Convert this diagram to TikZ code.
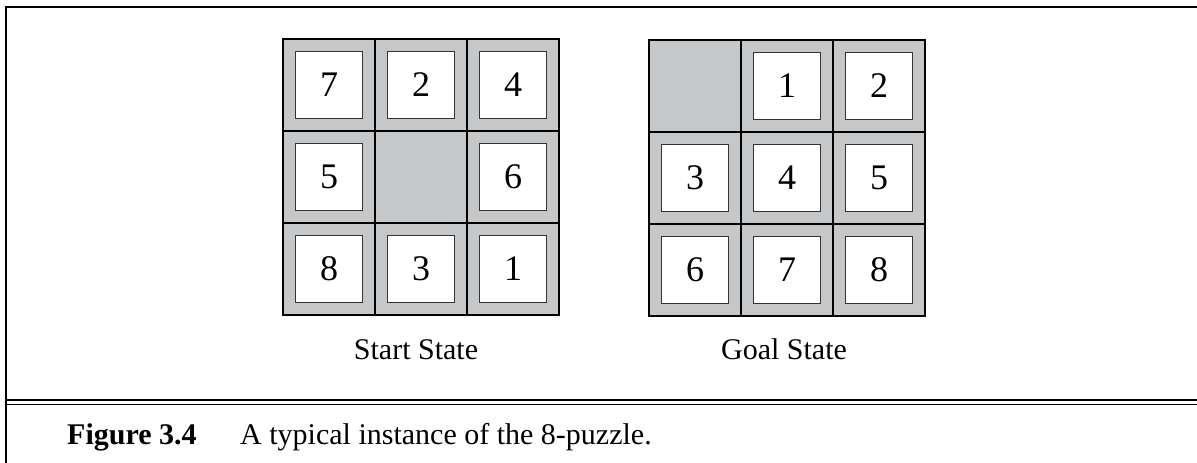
\documentclass[tikz,border=0pt]{standalone}
\usepackage{fontspec}
\setmainfont{Liberation Serif}
\usepackage{tikz}
\usetikzlibrary{calc}
\definecolor{cellgray}{HTML}{C6C7C9}
\definecolor{tileline}{HTML}{333333}
\tikzset{
  cell/.style={draw=black, line width=1.7pt, fill=cellgray, minimum size=92pt, inner sep=0pt, outer sep=0pt},
  tile/.style={draw=tileline, line width=0.9pt, fill=white, minimum size=67pt, inner sep=0pt,
    font=\fontsize{36}{40}\selectfont},
  boardEdge/.style={draw=black, line width=2.2pt},
  frameLine/.style={draw=black, line width=1.4pt},
  stateLbl/.style={font=\fontsize{30}{34}\selectfont, anchor=base},
  capLbl/.style={font=\fontsize{30}{34}\selectfont, anchor=base west, inner sep=0pt},
}
% #1 board name, #2 top-left corner, #3 tiles row by row (0 = blank)
\newcommand{\PuzzleBoard}[3]{%
  \foreach \v [count=\k from 0] in {#3} {
    \pgfmathtruncatemacro{\r}{\k/3}
    \pgfmathtruncatemacro{\c}{mod(\k,3)}
    \node[cell] (#1c\k) at ($(#2)+(\c*92pt+46pt,-\r*92pt-46pt)$) {};
    \ifnum\v>0
      \node[tile] (#1t\v) at (#1c\k.center) {\v};
    \fi
  }
  \draw[boardEdge] (#1c0.north west) rectangle (#1c8.south east);
}

\begin{document}
\begin{tikzpicture}[x=1pt, y=1pt]
  \useasboundingbox (0,0) rectangle (1197,-463);

  % outer frame
  \coordinate (TL) at (6,-7);
  \coordinate (TR) at (1197,-7);
  \coordinate (BL) at (6,-463);
  \draw[frameLine] (TR) -- (TL) -- (BL);
  \coordinate (R1) at (6,-400);   \coordinate (R1e) at (1197,-400);
  \coordinate (R2) at (6,-404.5); \coordinate (R2e) at (1197,-404.5);
  \draw[frameLine] (R1) -- (R1e);
  \draw[frameLine] (R2) -- (R2e);

  % the two boards
  \coordinate (startTL) at (283,-39);
  \coordinate (goalTL)  at (649,-40);
  \PuzzleBoard{s}{startTL}{7,2,4,5,0,6,8,3,1}
  \PuzzleBoard{g}{goalTL}{0,1,2,3,4,5,6,7,8}

  \node[stateLbl] (startLbl) at (416,-359) {Start State};
  \node[stateLbl] (goalLbl)  at (784,-359) {Goal State};

  % caption
  \node[capLbl] (figNo)  at (67,-444) {\textbf{Figure 3.4}};
  \node[capLbl] (figTxt) at (240,-444) {A typical instance of the 8-puzzle.};
\end{tikzpicture}
\end{document}
